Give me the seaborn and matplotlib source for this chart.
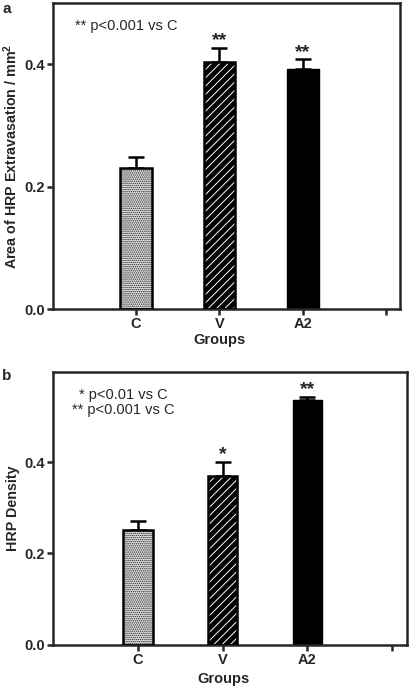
import numpy as np
import pandas as pd
import seaborn as sns
import matplotlib.pyplot as plt

# ---- data ----
groups = ["C", "V", "A2"]
area_mean = [0.230, 0.404, 0.393]
area_sem = [0.018, 0.023, 0.015]
area_stars = ["", "**", "**"]
dens_mean = [0.251, 0.369, 0.535]
dens_sem = [0.021, 0.032, 0.008]
dens_stars = ["", "*", "**"]

sns.set_theme(style="ticks")
plt.rcParams['font.family'] = ['Liberation Sans', 'DejaVu Sans']
plt.rcParams['axes.linewidth'] = 1.8
plt.rcParams['hatch.linewidth'] = 0.7

fig = plt.figure(figsize=(4.13, 6.89), dpi=100)
ax1 = fig.add_axes([0.128, 0.5515, 0.841, 0.4441])
ax2 = fig.add_axes([0.128, 0.064, 0.857, 0.396])


def draw_panel(ax, mean, sem, stars, width, ymax, ylabel, lab_y):
    df = pd.DataFrame({"Groups": groups, "val": mean})
    sns.barplot(data=df, x="Groups", y="val", order=groups, ax=ax,
                width=width, color="black", errorbar=None, zorder=2)
    bars = ax.patches
    # C: stippled light bar
    bars[0].set_facecolor("#e4e4e4")
    bars[0].set_edgecolor("#222222")
    bars[0].set_hatch("........")
    bars[0].set_linewidth(0)
    # V: black bar with white diagonal lines
    bars[1].set_facecolor("black")
    bars[1].set_edgecolor("white")
    bars[1].set_hatch("////")
    bars[1].set_linewidth(0)
    for b in bars[:2]:
        ax.add_patch(plt.Rectangle((b.get_x(), b.get_y()), b.get_width(), b.get_height(),
                                   fill=False, edgecolor="black", lw=1.8, zorder=3))
    bars[2].set_facecolor("black")
    bars[2].set_edgecolor("black")
    x = np.arange(len(groups))
    ax.errorbar(x, mean, yerr=[np.zeros(len(sem)), sem], fmt="none",
                ecolor="black", elinewidth=1.8, capsize=6, capthick=1.8, zorder=1)
    for xi, m, s, st in zip(x, mean, sem, stars):
        if st:
            ax.annotate(st, (xi, m + s), xytext=(0, -1), textcoords="offset points",
                        ha="center", va="bottom", fontsize=14, fontweight="bold")
    ax.set_xlim(-1, 3.17)
    ax.set_ylim(0, ymax)
    ax.set_xticks([0, 1, 2, 3])
    ax.set_xticklabels(groups + [""], fontweight="bold", fontsize=10.5)
    ax.set_yticks([0.0, 0.2, 0.4])
    ax.set_yticklabels(["0.0", "0.2", "0.4"], fontweight="bold", fontsize=10.5)
    ax.tick_params(direction="out", length=4, width=1.8, pad=2)
    ax.set_xlabel("Groups", fontweight="bold", fontsize=10.5, labelpad=0)
    ax.xaxis.set_label_coords(0.481, lab_y)
    ax.set_ylabel(ylabel, fontweight="bold", fontsize=10.3, labelpad=3)
    for sp in ax.spines.values():
        sp.set_visible(True)
        sp.set_linewidth(1.8)


draw_panel(ax1, area_mean, area_sem, area_stars, 0.38, 0.5,
           "Area of HRP Extravasation / mm$^{\\mathregular{2}}$", -0.08)
draw_panel(ax2, dens_mean, dens_sem, dens_stars, 0.35, 0.597, "HRP Density", -0.1)

ax1.text(0.063, 0.925, "** p<0.001 vs C", transform=ax1.transAxes,
         fontsize=10.5, va="center", ha="left")
ax2.text(0.2, 0.89, "* p<0.01 vs C\n** p<0.001 vs C", transform=ax2.transAxes,
         fontsize=10.5, va="center", ha="center", linespacing=1.1)

fig.text(0.005, 0.997, "a", fontsize=11, fontweight="bold", va="top")
fig.text(0.005, 0.464, "b", fontsize=11, fontweight="bold", va="top")

fig.savefig("out.png", dpi=100)
